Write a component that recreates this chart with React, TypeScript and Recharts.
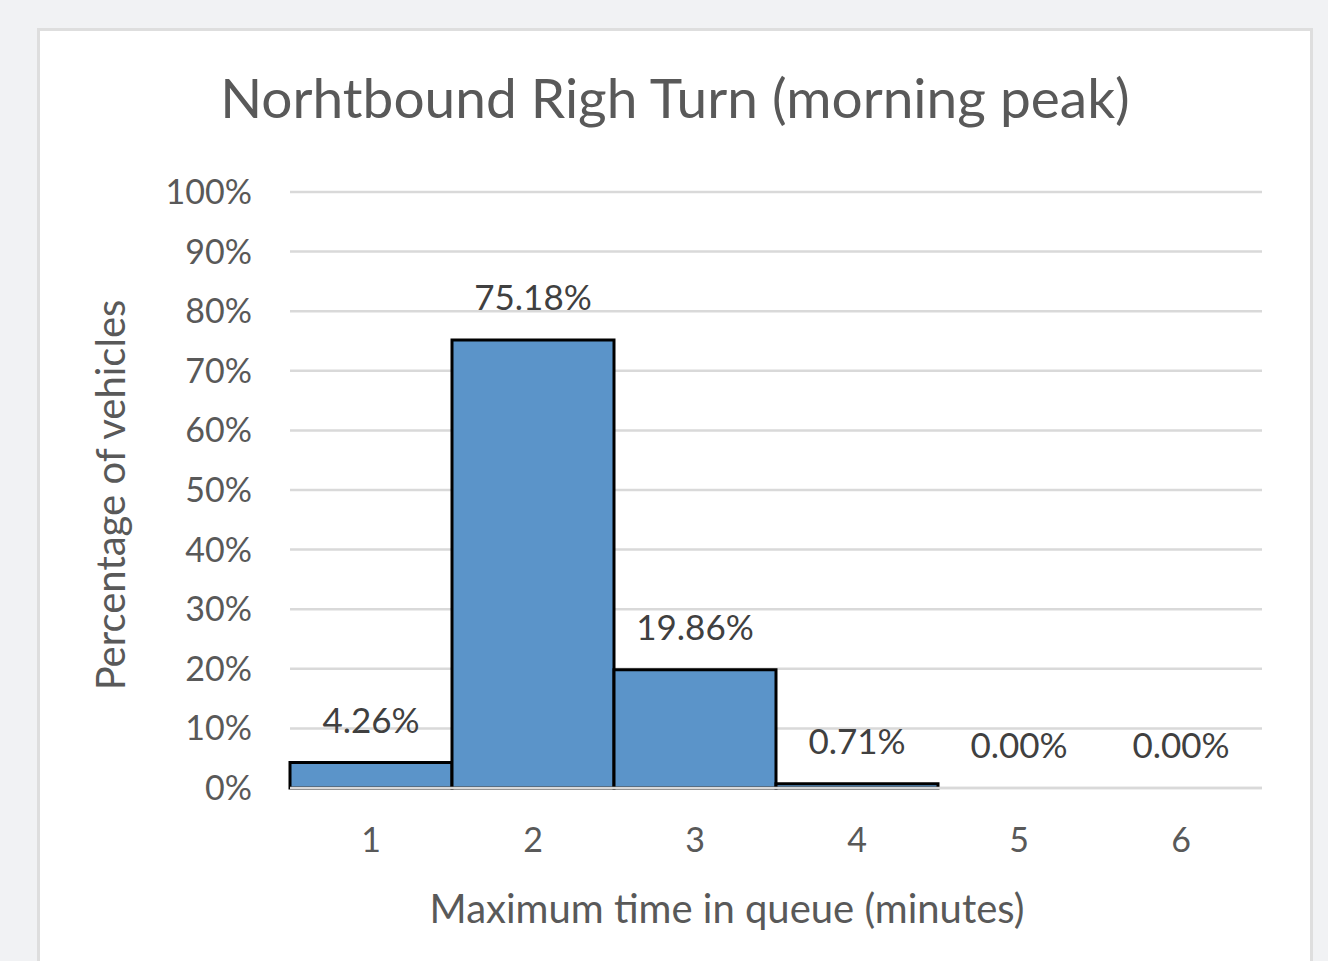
import { ComposedChart, Bar, Line, XAxis, YAxis, CartesianGrid, LabelList } from "recharts";

const minutes = ["1", "2", "3", "4", "5", "6"];
const shares = [4.26, 75.18, 19.86, 0.71, 0, 0];
const yTicks = [0, 10, 20, 30, 40, 50, 60, 70, 80, 90, 100];

const data = minutes.map((m, i) => ({ minute: m, share: shares[i] }));

const FONT = "Lato, 'Noto Sans', sans-serif";

export default function App() {
  return (
    <div
      style={{
        position: "absolute",
        left: 0,
        top: 0,
        width: 1328,
        height: 961,
        background: "#f1f2f4",
        overflow: "hidden",
        fontFamily: FONT,
      }}>
      <div
        style={{
          position: "absolute",
          left: 37,
          top: 28,
          width: 1270,
          height: 960,
          background: "#fff",
          border: "3px solid #dedede",
        }}
      />
      <div
        style={{
          position: "absolute",
          left: 0,
          top: 64,
          width: 1350,
          textAlign: "center",
          fontSize: 55,
          color: "#595959",
        }}>
        Norhtbound Righ Turn (morning peak)
      </div>
      <div style={{ position: "absolute", left: 0, top: 0 }}>
        <ComposedChart
          width={1328}
          height={961}
          data={data}
          barCategoryGap={0}
          margin={{ top: 192, right: 66, bottom: 20, left: 190 }}>
          <CartesianGrid vertical={false} stroke="#d9d9d9" strokeWidth={2.5} />
          <XAxis
            dataKey="minute"
            axisLine={{ stroke: "#d9d9d9", strokeWidth: 2.5 }}
            tickLine={false}
            tickSize={0}
            tickMargin={40}
            tick={{ fill: "#595959", fontSize: 34, fontFamily: FONT }}
            height={153}
          />
          <YAxis
            width={100}
            domain={[0, 100]}
            ticks={yTicks}
            tickFormatter={(v: number) => `${v}%`}
            axisLine={false}
            tickLine={false}
            tickSize={0}
            tickMargin={38}
            tick={{ fill: "#595959", fontSize: 34, fontFamily: FONT }}
          />
          <Bar
            dataKey="share"
            fill="#5b94c9"
            stroke="#000"
            strokeWidth={3}
            isAnimationActive={false}
          />
          <Line
            dataKey="share"
            stroke="none"
            dot={false}
            activeDot={false}
            isAnimationActive={false}>
            <LabelList
              dataKey="share"
              position="top"
              offset={30}
              formatter={(v: any) => `${Number(v).toFixed(2)}%`}
              style={{ fill: "#404040", fontSize: 35, fontFamily: FONT }}
            />
          </Line>
          <text
            x={110}
            y={495}
            transform="rotate(-90 110 495)"
            textAnchor="middle"
            dominantBaseline="central"
            fill="#595959"
            fontSize={40}
            fontFamily={FONT}>
            Percentage of vehicles
          </text>
          <text
            x={727}
            y={908}
            textAnchor="middle"
            dominantBaseline="central"
            fill="#595959"
            fontSize={40}
            fontFamily={FONT}>
            Maximum time in queue (minutes)
          </text>
        </ComposedChart>
      </div>
    </div>
  );
}
